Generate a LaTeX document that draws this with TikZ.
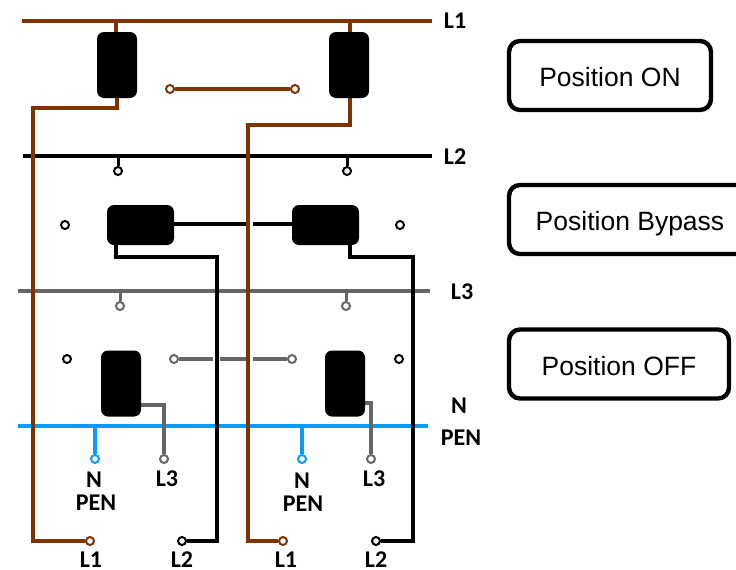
\documentclass[tikz,border=0pt]{standalone}
\usepackage{fontspec}
\setmainfont{Liberation Sans}
\newfontfamily\labelfont[BoldFont=Carlito Bold]{Carlito}
\usetikzlibrary{backgrounds}
\definecolor{brownwire}{HTML}{7F3300}
\definecolor{greywire}{HTML}{666666}
\definecolor{bluewire}{HTML}{0A9BFF}
\begin{document}
\begin{tikzpicture}[x=1pt,y=-1pt,
    wire/.style={line width=4.2pt,line join=miter},
    switchbox/.style={fill=black,rounded corners=7pt,inner sep=0pt},
    tall/.style={switchbox,minimum width=40pt,minimum height=66pt},
    wide/.style={switchbox,minimum width=67pt,minimum height=40pt},
    term/.style={circle,draw=#1,fill=white,line width=2pt,inner sep=0pt,minimum size=8pt},
    wirelabel/.style={font=\labelfont\bfseries\fontsize{24}{24}\selectfont,inner sep=0pt},
    position/.style={draw=black,line width=4.4pt,rounded corners=11pt,inner sep=0pt,
      text height=22pt,text depth=0pt,
      minimum height=69pt,font=\fontsize{26.5}{26.5}\selectfont}]
  \clip (0,0) rectangle (736,570);
  \useasboundingbox (0,0) rectangle (736,570);
  % switches
  \node[tall] (onA) at (117,65) {};
  \node[tall] (onB) at (349,65) {};
  \node[wide] (byA) at (140.5,225) {};
  \node[wide] (byB) at (325.5,225) {};
  \node[tall] (offA) at (121,383.5) {};
  \node[tall] (offB) at (345,383.5) {};
  % terminals
  \node[term=brownwire] (linkAa) at (170,89) {};
  \node[term=brownwire] (linkAb) at (295,89) {};
  \node[term=black] (stubBa) at (118,171) {};
  \node[term=black] (stubBb) at (347,171) {};
  \node[term=black] (freeBa) at (65,225) {};
  \node[term=black] (freeBb) at (400,225) {};
  \node[term=greywire] (stubCa) at (120,306) {};
  \node[term=greywire] (stubCb) at (346,306) {};
  \node[term=black] (freeCa) at (67,359) {};
  \node[term=black] (freeCb) at (399,359) {};
  \node[term=greywire] (linkCa) at (174,359) {};
  \node[term=greywire] (linkCb) at (292,359) {};
  \node[term=bluewire] (outNa) at (95,459) {};
  \node[term=bluewire] (outNb) at (302,459) {};
  \node[term=greywire] (outCa) at (164,459) {};
  \node[term=greywire] (outCb) at (371,459) {};
  \node[term=brownwire] (outAa) at (90,541) {};
  \node[term=brownwire] (outAb) at (283,541) {};
  \node[term=black] (outBa) at (182,541) {};
  \node[term=black] (outBb) at (376,541) {};
  \begin{scope}[on background layer]
  % bus bars
  \coordinate (busAa) at (22,21); \coordinate (busAb) at (432,21);
  \coordinate (busBa) at (23,156); \coordinate (busBb) at (432,156);
  \coordinate (busCa) at (18,291); \coordinate (busCb) at (430,291);
  \coordinate (busNa) at (18,426); \coordinate (busNb) at (428,426);
  \draw[wire,brownwire] (busAa) -- (busAb);
  \draw[wire,black] (busBa) -- (busBb);
  \draw[wire,greywire] (busCa) -- (busCb);
  \draw[wire,bluewire] (busNa) -- (busNb);
  % stubs from the bars
  \coordinate (topAa) at (116,21); \coordinate (topAb) at (350,21);
  \coordinate (topBa) at (118,156); \coordinate (topBb) at (347,156);
  \coordinate (topCa) at (120,291); \coordinate (topCb) at (346,291);
  \coordinate (topNa) at (95,426); \coordinate (topNb) at (302,426);
  \draw[wire,brownwire] (topAa) -- (topAa |- onA.north);
  \draw[wire,brownwire] (topAb) -- (topAb |- onB.north);
  \draw[wire,black,line width=3pt] (topBa) -- (stubBa);
  \draw[wire,black,line width=3pt] (topBb) -- (stubBb);
  \draw[wire,greywire,line width=3pt] (topCa) -- (stubCa);
  \draw[wire,greywire,line width=3pt] (topCb) -- (stubCb);
  \draw[wire,bluewire] (topNa) -- (outNa);
  \draw[wire,bluewire] (topNb) -- (outNb);
  % links between the switches
  \draw[wire,brownwire] (linkAa) -- (linkAb);
  \coordinate (gapBa) at (246,224); \coordinate (gapBb) at (253,224);
  \draw[wire,black] (byA.east |- gapBa) -- (gapBa);
  \draw[wire,black] (gapBb) -- (byB.west |- gapBb);
  \coordinate (gapCa) at (213,359); \coordinate (gapCb) at (220,359);
  \coordinate (gapCc) at (246,359); \coordinate (gapCd) at (253,359);
  \draw[wire,greywire] (linkCa) -- (gapCa);
  \draw[wire,greywire] (gapCb) -- (gapCc);
  \draw[wire,greywire] (gapCd) -- (linkCb);
  % outgoing wires
  \coordinate (kneeAa) at (33,108); \coordinate (kneeAb) at (248,125);
  \draw[wire,brownwire] (onA.south) |- (kneeAa) |- (outAa);
  \draw[wire,brownwire] (onB.south -| topAb) |- (kneeAb) |- (outAb);
  \coordinate (tapBa) at (116,245); \coordinate (tapBb) at (350,245);
  \coordinate (kneeBa) at (217,257); \coordinate (kneeBb) at (413,257);
  \draw[wire,black] (tapBa) |- (kneeBa) |- (outBa);
  \draw[wire,black] (tapBb) |- (kneeBb) |- (outBb);
  \coordinate (tapCa) at (141,405); \coordinate (tapCb) at (365,403);
  \draw[wire,greywire] (tapCa) -| (outCa);
  \draw[wire,greywire] (tapCb) -| (outCb);
  \end{scope}
  % labels
  \node[wirelabel] (nameA) at (455,21) {L1};
  \node[wirelabel] (nameB) at (455,157) {L2};
  \node[wirelabel] (nameC) at (462,292) {L3};
  \node[wirelabel] (nameN) at (459,406) {N};
  \node[wirelabel] (namePEN) at (461,438) {PEN};
  \node[wirelabel] (tagNa) at (94,480) {N};
  \node[wirelabel] (tagPa) at (96,503) {PEN};
  \node[wirelabel] (tagCa) at (167,479) {L3};
  \node[wirelabel] (tagNb) at (302,481) {N};
  \node[wirelabel] (tagPb) at (303,504) {PEN};
  \node[wirelabel] (tagCb) at (374,479) {L3};
  \node[wirelabel] (tagAa) at (91,560) {L1};
  \node[wirelabel] (tagBa) at (182,560) {L2};
  \node[wirelabel] (tagAb) at (286,560) {L1};
  \node[wirelabel] (tagBb) at (376,560) {L2};
  % positions
  \node[position,minimum width=202pt] (posOn) at (610,75.5) {Position ON};
  \node[position,minimum width=242pt] (posBypass) at (630,219.5) {Position Bypass};
  \node[position,minimum width=220pt] (posOff) at (619,364) {Position OFF};
\end{tikzpicture}
\end{document}
